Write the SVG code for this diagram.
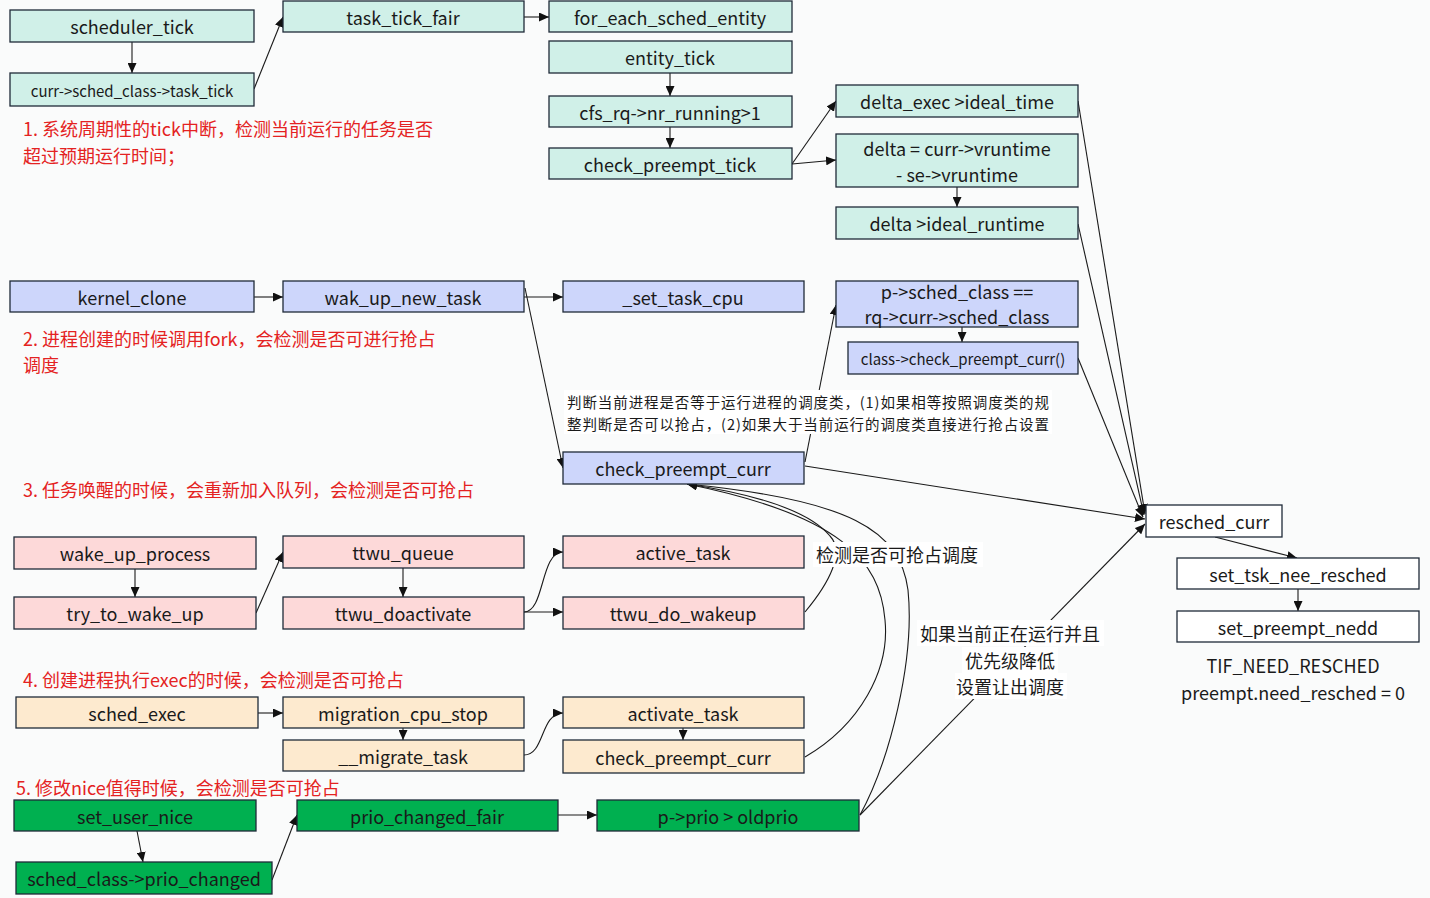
<svg xmlns="http://www.w3.org/2000/svg" width="1430" height="898" viewBox="0 0 1430 898">
<style>
text{font-family:"Noto Sans CJK SC","Noto Sans",sans-serif;fill:#1a1a1a;dominant-baseline:central}
.b rect{stroke:#1f2a38;stroke-width:1.3}
.b text{font-size:18px;text-anchor:middle}
.t rect{fill:#d0f0e8}
.l rect{fill:#cdd6fb}
.p rect{fill:#fdd9d9}
.o rect{fill:#fdeacf}
.g rect{fill:#00b050}
.w rect{fill:#ffffff}
.red{fill:#e42222;font-size:18px}
.note{font-size:18px}
.c path,.c line{fill:none;stroke:#1a1a1a;stroke-width:1.1;marker-end:url(#ah)}
</style>
<defs>
<marker id="ah" markerUnits="userSpaceOnUse" markerWidth="11" markerHeight="9" refX="10" refY="4.5" orient="auto">
<path d="M0,0 L10,4.5 L0,9 z" fill="#111"/>
</marker>
</defs>
<rect width="1430" height="898" fill="#fafbfb"/>

<!-- text annotations -->
<text class="red" x="23" y="128">1. 系统周期性的tick中断，检测当前运行的任务是否</text>
<text class="red" x="23" y="155">超过预期运行时间；</text>
<text class="red" x="23" y="338">2. 进程创建的时候调用fork，会检测是否可进行抢占</text>
<text class="red" x="23" y="364">调度</text>
<text class="red" x="23" y="489">3. 任务唤醒的时候，会重新加入队列，会检测是否可抢占</text>
<text class="red" x="23" y="679">4. 创建进程执行exec的时候，会检测是否可抢占</text>
<text class="red" x="16" y="787">5. 修改nice值得时候，会检测是否可抢占</text>

<!-- connectors -->
<g id="connectors" class="c">
<line x1="132" y1="42" x2="132" y2="73"/>
<line x1="254" y1="89" x2="283" y2="17"/>
<line x1="524" y1="17" x2="549" y2="17"/>
<line x1="670" y1="73" x2="670" y2="96"/>
<line x1="670" y1="127" x2="670" y2="148"/>
<line x1="792" y1="164" x2="836" y2="101"/>
<line x1="792" y1="164" x2="836" y2="160"/>
<line x1="957" y1="187" x2="957" y2="207"/>
<line x1="1078" y1="101" x2="1145" y2="514"/>
<line x1="1078" y1="224" x2="1144" y2="515"/>
<line x1="1078" y1="358" x2="1143" y2="517"/>
<line x1="805" y1="466" x2="1145" y2="519"/>
<line x1="254" y1="297" x2="283" y2="297"/>
<line x1="524" y1="297" x2="563" y2="297"/>
<line x1="525" y1="288" x2="563" y2="468"/>
<line x1="805" y1="462" x2="836" y2="305"/>
<line x1="962" y1="327" x2="962" y2="342"/>
<line x1="135" y1="569" x2="135" y2="597"/>
<line x1="256" y1="613" x2="283" y2="552"/>
<line x1="403" y1="568" x2="403" y2="597"/>
<path d="M524,612 C545,612 540,552 563,552"/>
<line x1="524" y1="612" x2="563" y2="612"/>
<line x1="258" y1="713" x2="283" y2="713"/>
<line x1="403" y1="728" x2="403" y2="740"/>
<path d="M524,755 C545,755 540,713 563,713"/>
<line x1="683" y1="728" x2="683" y2="740"/>
<line x1="137" y1="831" x2="143" y2="862"/>
<line x1="272" y1="880" x2="297" y2="815"/>
<line x1="558" y1="815" x2="597" y2="815"/>
<line x1="1215" y1="537" x2="1297" y2="558"/>
<line x1="1298" y1="589" x2="1298" y2="611"/>
<path d="M805,612 C830,582 845,552 830,536 C810,512 760,495 687,484"/>
<path d="M805,757 C860,725 890,670 885,620 C880,560 840,515 687,484"/>
<path d="M860,815 C890,760 915,660 908,590 C900,530 850,500 687,484"/>
<line x1="860" y1="815" x2="1145" y2="524"/>
</g>

<!-- white-backed labels -->
<g id="label_judge">
<rect x="564" y="390" width="488" height="44" fill="#ffffff"/>
<text x="567" y="401" font-size="14.5" textLength="482">判断当前进程是否等于运行进程的调度类，(1)如果相等按照调度类的规</text>
<text x="567" y="423" font-size="14.5" textLength="482">整判断是否可以抢占，(2)如果大于当前运行的调度类直接进行抢占设置</text>
</g>
<g id="label_check">
<rect x="813" y="542" width="170" height="25" fill="#ffffff"/>
<text class="note" x="816" y="554">检测是否可抢占调度</text>
</g>
<g id="label_prio">
<rect x="917" y="620" width="187" height="26" fill="#ffffff"/>
<rect x="962" y="647" width="96" height="26" fill="#ffffff"/>
<rect x="955" y="673" width="112" height="26" fill="#ffffff"/>
<text class="note" x="1010" y="633" text-anchor="middle">如果当前正在运行并且</text>
<text class="note" x="1010" y="660" text-anchor="middle">优先级降低</text>
<text class="note" x="1010" y="686" text-anchor="middle">设置让出调度</text>
</g>
<g id="label_tif">
<text class="note" x="1293" y="665" text-anchor="middle">TIF_NEED_RESCHED</text>
<text class="note" x="1293" y="692" text-anchor="middle">preempt.need_resched = 0</text>
</g>

<!-- group 1 teal -->
<g id="n_scheduler_tick" class="b t"><rect x="10" y="10" width="244" height="32"/><text x="132" y="26">scheduler_tick</text></g>
<g id="n_curr_task_tick" class="b t"><rect x="10" y="73" width="244" height="33"/><text x="132" y="90" style="font-size:15px">curr-&gt;sched_class-&gt;task_tick</text></g>
<g id="n_task_tick_fair" class="b t"><rect x="283" y="1" width="241" height="31"/><text x="403" y="17">task_tick_fair</text></g>
<g id="n_for_each_sched_entity" class="b t"><rect x="549" y="1" width="243" height="31"/><text x="670" y="17">for_each_sched_entity</text></g>
<g id="n_entity_tick" class="b t"><rect x="549" y="41" width="243" height="32"/><text x="670" y="57">entity_tick</text></g>
<g id="n_cfs_rq" class="b t"><rect x="549" y="96" width="243" height="31"/><text x="670" y="112">cfs_rq-&gt;nr_running&gt;1</text></g>
<g id="n_check_preempt_tick" class="b t"><rect x="549" y="148" width="243" height="31"/><text x="670" y="164">check_preempt_tick</text></g>
<g id="n_delta_exec" class="b t"><rect x="836" y="85" width="242" height="32"/><text x="957" y="101">delta_exec &gt;ideal_time</text></g>
<g id="n_delta" class="b t"><rect x="836" y="134" width="242" height="53"/><text x="957" y="148">delta = curr-&gt;vruntime</text><text x="957" y="174">- se-&gt;vruntime</text></g>
<g id="n_delta_ideal" class="b t"><rect x="836" y="207" width="242" height="32"/><text x="957" y="223">delta &gt;ideal_runtime</text></g>

<!-- group 2 lavender -->
<g id="n_kernel_clone" class="b l"><rect x="10" y="281" width="244" height="31"/><text x="132" y="297">kernel_clone</text></g>
<g id="n_wak_up_new_task" class="b l"><rect x="283" y="281" width="241" height="31"/><text x="403" y="297">wak_up_new_task</text></g>
<g id="n_set_task_cpu" class="b l"><rect x="563" y="281" width="241" height="31"/><text x="683" y="297">_set_task_cpu</text></g>
<g id="n_p_sched_class" class="b l"><rect x="836" y="281" width="242" height="46"/><text x="957" y="291">p-&gt;sched_class ==</text><text x="957" y="316">rq-&gt;curr-&gt;sched_class</text></g>
<g id="n_class_check" class="b l"><rect x="848" y="342" width="230" height="32"/><text x="963" y="358" style="font-size:15px">class-&gt;check_preempt_curr()</text></g>
<g id="n_check_preempt_curr_a" class="b l"><rect x="563" y="452" width="241" height="32"/><text x="683" y="468">check_preempt_curr</text></g>

<!-- group 3 pink -->
<g id="n_wake_up_process" class="b p"><rect x="14" y="537" width="242" height="32"/><text x="135" y="553">wake_up_process</text></g>
<g id="n_try_to_wake_up" class="b p"><rect x="14" y="597" width="242" height="32"/><text x="135" y="613">try_to_wake_up</text></g>
<g id="n_ttwu_queue" class="b p"><rect x="283" y="536" width="241" height="32"/><text x="403" y="552">ttwu_queue</text></g>
<g id="n_ttwu_doactivate" class="b p"><rect x="283" y="597" width="241" height="32"/><text x="403" y="613">ttwu_doactivate</text></g>
<g id="n_active_task" class="b p"><rect x="563" y="536" width="241" height="32"/><text x="683" y="552">active_task</text></g>
<g id="n_ttwu_do_wakeup" class="b p"><rect x="563" y="597" width="241" height="32"/><text x="683" y="613">ttwu_do_wakeup</text></g>

<!-- group 4 peach -->
<g id="n_sched_exec" class="b o"><rect x="16" y="697" width="242" height="31"/><text x="137" y="713">sched_exec</text></g>
<g id="n_migration_cpu_stop" class="b o"><rect x="283" y="697" width="241" height="31"/><text x="403" y="713">migration_cpu_stop</text></g>
<g id="n_migrate_task" class="b o"><rect x="283" y="740" width="241" height="31"/><text x="403" y="756">__migrate_task</text></g>
<g id="n_activate_task" class="b o"><rect x="563" y="697" width="241" height="31"/><text x="683" y="713">activate_task</text></g>
<g id="n_check_preempt_curr_b" class="b o"><rect x="563" y="740" width="241" height="33"/><text x="683" y="757">check_preempt_curr</text></g>

<!-- group 5 green -->
<g id="n_set_user_nice" class="b g"><rect x="14" y="800" width="242" height="31"/><text x="135" y="816">set_user_nice</text></g>
<g id="n_prio_changed" class="b g"><rect x="16" y="862" width="256" height="32"/><text x="144" y="878">sched_class-&gt;prio_changed</text></g>
<g id="n_prio_changed_fair" class="b g"><rect x="297" y="800" width="261" height="31"/><text x="427" y="816">prio_changed_fair</text></g>
<g id="n_prio_oldprio" class="b g"><rect x="597" y="800" width="262" height="31"/><text x="728" y="816">p-&gt;prio &gt; oldprio</text></g>

<!-- right side white -->
<g id="n_resched_curr" class="b w"><rect x="1146" y="505" width="136" height="32"/><text x="1214" y="521">resched_curr</text></g>
<g id="n_set_tsk_nee_resched" class="b w"><rect x="1177" y="558" width="242" height="31"/><text x="1298" y="574">set_tsk_nee_resched</text></g>
<g id="n_set_preempt_nedd" class="b w"><rect x="1177" y="611" width="242" height="31"/><text x="1298" y="627">set_preempt_nedd</text></g>
</svg>
